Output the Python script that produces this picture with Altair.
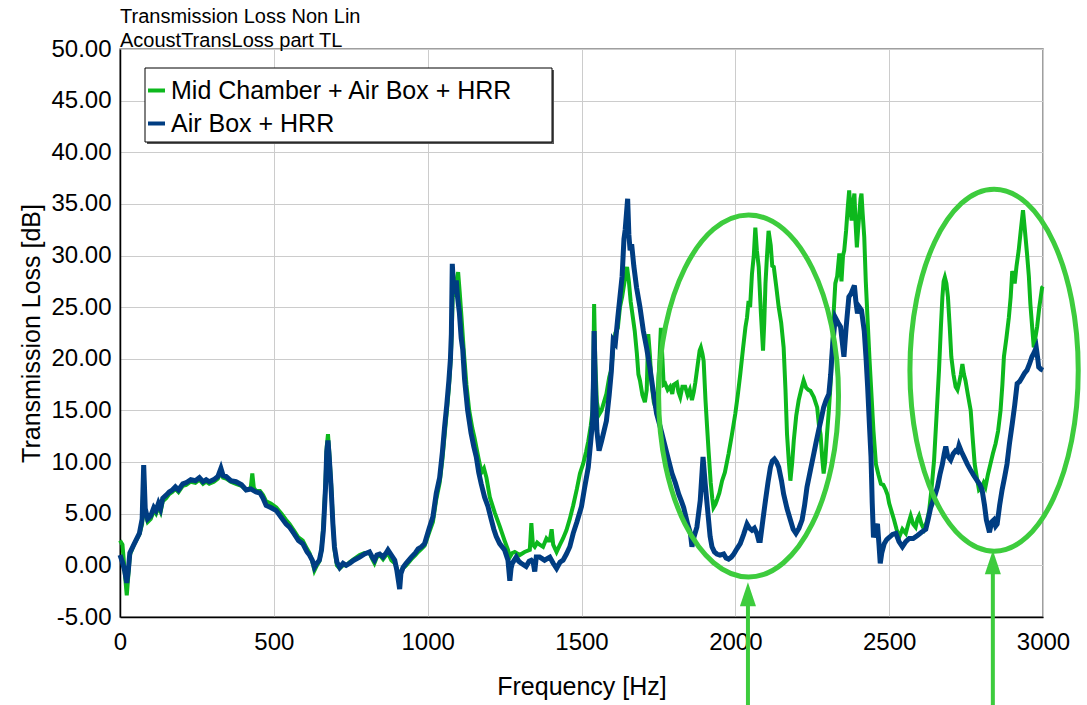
import altair as alt
import pandas as pd

GREEN_NAME = "Mid Chamber + Air Box + HRR"
BLUE_NAME = "Air Box + HRR"

# ---------------- series ----------------
blue_freq = [0, 8, 15, 22, 27, 32, 45, 63, 72, 77, 82, 90, 100, 110, 117, 125, 132, 139, 150, 160,
             170, 180, 190, 204, 215, 230, 245, 258, 270, 280, 290, 305, 318, 328, 335, 345, 360, 377, 395, 410,
             425, 442, 455, 465, 475, 490, 508, 525, 540, 551, 565, 580, 594, 608, 616, 625, 632, 640, 648, 655,
             661, 668, 672, 676, 680, 686, 692, 697, 705, 714, 725, 735, 746, 760, 779, 795, 811, 820, 827, 835,
             844, 855, 865, 871, 882, 893, 900, 905, 909, 913, 920, 930, 947, 960, 969, 980, 990, 996, 1005, 1017,
             1028, 1039, 1048, 1055, 1062, 1069, 1074, 1077, 1080, 1084, 1088, 1093, 1097, 1103, 1109, 1114, 1120, 1125, 1130, 1141,
             1150, 1158, 1166, 1174, 1185, 1196, 1207, 1215, 1223, 1234, 1250, 1261, 1267, 1271, 1275, 1288, 1296, 1304, 1320, 1330,
             1337, 1343, 1348, 1353, 1364, 1380, 1397, 1408, 1419, 1430, 1440, 1451, 1462, 1473, 1485, 1500, 1510, 1522, 1530, 1536,
             1539, 1541, 1545, 1550, 1557, 1565, 1573, 1581, 1590, 1597, 1603, 1610, 1618, 1625, 1632, 1638, 1642, 1646, 1650, 1654,
             1658, 1663, 1670, 1679, 1690, 1701, 1712, 1722, 1733, 1744, 1755, 1772, 1783, 1794, 1805, 1816, 1825, 1832, 1845, 1854,
             1859, 1866, 1875, 1886, 1895, 1902, 1908, 1913, 1918, 1924, 1932, 1940, 1950, 1962, 1970, 1978, 1987, 1995, 2005, 2016,
             2027, 2038, 2046, 2054, 2062, 2070, 2076, 2081, 2090, 2098, 2106, 2114, 2120, 2127, 2134, 2141, 2150, 2157, 2168, 2179,
             2188, 2197, 2207, 2217, 2225, 2233, 2244, 2255, 2263, 2271, 2280, 2287, 2295, 2304, 2310, 2315, 2320, 2325, 2334, 2342,
             2348, 2353, 2360, 2369, 2376, 2387, 2392, 2397, 2403, 2410, 2419, 2425, 2430, 2436, 2441, 2445, 2449, 2455, 2462, 2467,
             2471, 2476, 2484, 2492, 2500, 2511, 2522, 2532, 2543, 2554, 2565, 2578, 2592, 2605, 2619, 2627, 2635, 2646, 2657, 2665,
             2673, 2679, 2684, 2690, 2700, 2708, 2716, 2722, 2727, 2735, 2743, 2754, 2765, 2775, 2786, 2795, 2802, 2810, 2816, 2821,
             2826, 2833, 2840, 2846, 2851, 2859, 2867, 2875, 2883, 2891, 2900, 2908, 2916, 2924, 2932, 2940, 2948, 2956, 2964, 2971,
             2978, 2983, 2986, 2993, 3000]
blue_tl = [1.0, 0.3, -0.5, -1.7, -0.5, 1.2, 2.0, 3.1, 4.5, 9.7, 5.5, 4.5, 4.8, 5.6, 5.3, 6.0, 5.5, 6.5, 6.8, 7.1,
           7.3, 7.6, 7.3, 7.9, 8.0, 8.3, 8.2, 8.5, 8.1, 8.3, 8.1, 8.3, 8.6, 9.4, 8.7, 8.6, 8.2, 8.1, 7.8, 7.3,
           7.4, 7.1, 7.0, 6.5, 5.8, 5.6, 5.3, 4.6, 4.0, 3.7, 3.1, 2.4, 2.1, 1.3, 1.0, 0.5, -0.2, 0.2, 0.5, 1.5,
           3.4, 7.5, 11.0, 12.1, 10.5, 7.6, 4.0, 1.8, 0.3, -0.2, 0.2, 0.0, 0.2, 0.5, 0.8, 1.1, 1.3, 0.8, 0.5, 1.0,
           1.1, 0.8, 1.2, 1.5, 1.0, 0.5, -0.5, -1.5, -2.3, -0.8, -0.2, 0.2, 0.8, 1.2, 1.6, 1.8, 2.1, 2.7, 3.6, 4.7,
           7.0, 8.5, 11.0, 13.4, 15.5, 17.9, 20.0, 22.4, 29.2, 27.0, 26.3, 27.6, 26.0, 24.5, 22.0, 20.9, 18.0, 16.5, 15.0, 12.8,
           11.5, 10.5, 9.0, 7.9, 6.6, 5.7, 4.4, 3.5, 2.8, 2.1, 1.5, 0.5, -1.5, -0.3, 0.2, 0.8, 0.4, 0.2, -0.1, 0.4,
           0.5, 0.3, -0.6, 0.8, 0.8, 0.5, 0.8, 0.2, -0.3, 0.3, 0.5, 1.1, 1.8, 3.1, 4.2, 5.7, 7.5, 9.5, 12.0, 14.0,
           18.0, 22.7, 17.0, 13.0, 11.1, 12.0, 13.0, 14.0, 16.5, 18.8, 21.8, 21.5, 24.0, 26.0, 28.0, 31.6, 32.5, 34.0, 35.5, 32.0,
           30.5, 31.1, 29.0, 26.9, 25.0, 22.7, 21.0, 19.2, 16.9, 14.7, 13.5, 11.5, 10.2, 8.9, 8.0, 6.9, 6.2, 5.6, 4.0, 3.1,
           1.8, 2.8, 3.7, 6.3, 10.5, 7.9, 6.0, 4.4, 2.8, 1.8, 1.3, 1.1, 1.0, 1.1, 0.7, 0.6, 0.8, 1.1, 1.6, 2.1,
           3.0, 4.0, 3.6, 3.4, 3.6, 3.1, 2.4, 2.4, 4.5, 6.3, 8.0, 9.5, 10.1, 10.3, 10.0, 9.5, 8.2, 6.9, 5.5, 4.4,
           3.5, 3.1, 3.6, 4.4, 5.8, 7.6, 9.2, 10.8, 12.0, 13.1, 14.3, 15.3, 16.0, 16.6, 18.5, 20.8, 22.5, 24.0, 23.5, 23.1,
           21.5, 20.2, 23.0, 26.0, 26.3, 27.1, 25.5, 24.4, 25.0, 24.7, 22.7, 20.0, 17.3, 13.5, 10.5, 6.0, 2.7, 3.5, 4.0, 2.0,
           0.2, 1.2, 2.1, 2.5, 2.7, 3.0, 3.1, 2.3, 1.8, 2.3, 2.6, 2.6, 2.9, 3.2, 3.5, 4.5, 5.6, 6.5, 7.6, 8.8,
           9.8, 10.8, 11.5, 10.6, 10.2, 10.8, 11.1, 11.0, 11.6, 11.0, 10.5, 9.8, 9.2, 8.7, 8.2, 7.8, 7.3, 5.8, 4.4, 3.8,
           3.2, 4.2, 4.4, 3.8, 4.0, 5.8, 7.3, 8.5, 9.8, 11.8, 13.7, 15.5, 17.6, 17.8, 18.2, 18.6, 18.9, 19.5, 20.2, 20.6,
           21.1, 20.0, 19.2, 19.0, 18.9]

green_freq = [0, 8, 15, 22, 27, 32, 45, 63, 72, 77, 82, 90, 100, 110, 117, 125, 132, 139, 150, 160,
              170, 180, 190, 204, 215, 230, 245, 258, 270, 280, 290, 305, 318, 328, 335, 345, 360, 377, 395, 410,
              425, 430, 435, 442, 455, 465, 475, 490, 508, 525, 540, 551, 565, 580, 594, 608, 616, 625, 632, 640,
              648, 655, 661, 668, 672, 676, 680, 686, 692, 697, 705, 714, 725, 735, 746, 760, 779, 795, 811, 820,
              827, 835, 844, 855, 865, 871, 882, 893, 900, 905, 909, 913, 920, 930, 947, 960, 969, 980, 990, 996,
              1005, 1017, 1028, 1039, 1048, 1055, 1062, 1069, 1074, 1077, 1082, 1088, 1093, 1099, 1104, 1110, 1118, 1126, 1135, 1145,
              1152, 1165, 1175, 1183, 1191, 1202, 1218, 1234, 1250, 1261, 1267, 1275, 1283, 1299, 1315, 1332, 1337, 1342, 1348, 1356,
              1364, 1375, 1386, 1392, 1397, 1403, 1408, 1419, 1430, 1440, 1451, 1462, 1473, 1485, 1495, 1505, 1515, 1522, 1530, 1536,
              1539, 1541, 1545, 1550, 1557, 1565, 1573, 1581, 1590, 1597, 1603, 1610, 1618, 1625, 1632, 1640, 1648, 1654, 1660, 1667,
              1673, 1680, 1685, 1690, 1698, 1706, 1712, 1717, 1722, 1728, 1735, 1740, 1747, 1752, 1758, 1763, 1767, 1772, 1780, 1788,
              1795, 1800, 1810, 1815, 1821, 1828, 1837, 1845, 1852, 1859, 1865, 1870, 1878, 1884, 1888, 1893, 1897, 1903, 1908, 1913,
              1920, 1925, 1929, 1935, 1940, 1948, 1957, 1966, 1978, 1988, 2000, 2008, 2016, 2025, 2033, 2038, 2043, 2048, 2054, 2060,
              2065, 2070, 2076, 2083, 2090, 2094, 2098, 2103, 2108, 2115, 2120, 2125, 2133, 2141, 2149, 2157, 2163, 2168, 2174, 2179,
              2185, 2190, 2198, 2206, 2214, 2222, 2230, 2237, 2244, 2255, 2266, 2272, 2277, 2282, 2287, 2292, 2298, 2304, 2309, 2315,
              2320, 2325, 2331, 2338, 2345, 2350, 2354, 2360, 2365, 2370, 2374, 2378, 2382, 2387, 2391, 2395, 2399, 2403, 2407, 2410,
              2414, 2419, 2424, 2430, 2436, 2441, 2449, 2457, 2465, 2473, 2481, 2489, 2495, 2500, 2508, 2516, 2524, 2532, 2543, 2554,
              2562, 2570, 2578, 2586, 2592, 2597, 2605, 2613, 2622, 2630, 2638, 2646, 2654, 2662, 2668, 2673, 2677, 2681, 2686, 2691,
              2697, 2702, 2709, 2716, 2722, 2727, 2733, 2738, 2743, 2748, 2756, 2765, 2771, 2778, 2785, 2792, 2800, 2807, 2813, 2821,
              2829, 2837, 2846, 2854, 2862, 2868, 2873, 2881, 2889, 2895, 2900, 2904, 2908, 2914, 2921, 2928, 2935, 2941, 2948, 2954,
              2959, 2965, 2970, 2975, 2981, 2988, 2997, 3000]
green_tl = [2.4, 2.0, -0.5, -2.9, -1.0, 1.0, 2.0, 3.0, 4.0, 9.2, 5.0, 4.2, 4.5, 5.3, 5.0, 5.7, 5.2, 6.2, 6.5, 6.9,
            7.1, 7.4, 7.1, 7.7, 7.8, 8.1, 8.0, 8.3, 7.9, 8.1, 7.9, 8.1, 8.4, 9.0, 8.5, 8.4, 8.1, 7.9, 7.7, 7.3,
            7.5, 8.9, 7.5, 7.2, 7.2, 6.8, 6.2, 6.0, 5.6, 5.0, 4.4, 4.0, 3.4, 2.7, 2.4, 1.6, 1.2, 0.4, -0.5, 0.0,
            0.4, 1.5, 3.8, 8.0, 11.5, 12.7, 11.0, 8.0, 4.2, 1.6, 0.0, -0.3, 0.0, 0.0, 0.3, 0.6, 1.0, 1.2, 1.2, 0.6,
            0.2, 0.8, 1.0, 0.6, 1.0, 1.2, 0.5, 0.2, -0.3, -1.2, -1.8, -0.6, -0.3, 0.0, 0.6, 1.0, 1.3, 1.6, 1.9, 2.4,
            3.2, 4.2, 6.4, 8.0, 10.3, 12.6, 14.8, 17.2, 19.5, 21.5, 26.5, 26.0, 27.5, 28.4, 26.5, 24.0, 20.5, 17.5, 15.0, 13.3,
            12.4, 10.4, 9.0, 9.4, 8.5, 6.6, 5.1, 3.8, 2.4, 1.5, 0.8, 1.2, 1.3, 1.0, 1.3, 1.5, 4.1, 2.0, 1.8, 2.2,
            2.0, 1.8, 2.6, 2.4, 2.4, 3.5, 2.0, 1.3, 2.0, 2.6, 3.4, 4.5, 5.8, 7.4, 8.9, 9.8, 11.0, 12.0, 13.5, 15.0,
            20.0, 25.3, 19.5, 15.8, 14.6, 15.0, 15.8, 16.6, 18.2, 19.0, 21.0, 22.5, 23.0, 25.0, 26.0, 27.5, 28.9, 27.5, 25.5, 24.0,
            22.7, 20.5, 18.5, 17.9, 16.5, 15.8, 17.0, 22.4, 20.5, 17.5, 15.8, 15.3, 16.5, 19.0, 23.0, 20.0, 17.5, 17.6, 17.0, 17.3,
            16.6, 17.5, 17.7, 16.8, 16.3, 17.3, 17.3, 16.5, 17.0, 16.0, 16.8, 17.7, 19.5, 20.8, 21.1, 20.5, 19.8, 16.0, 13.5, 11.1,
            8.0, 6.5, 5.6, 5.9, 6.3, 7.0, 8.2, 9.0, 10.8, 12.5, 14.7, 16.5, 18.5, 21.0, 23.1, 24.0, 25.6, 25.0, 28.2, 30.0,
            32.7, 30.5, 28.9, 24.5, 20.8, 23.5, 27.3, 30.0, 32.4, 31.0, 29.0, 28.9, 27.0, 25.0, 23.5, 21.1, 17.0, 12.7, 10.0, 8.2,
            10.0, 12.1, 14.5, 16.0, 17.0, 17.9, 17.2, 17.0, 16.9, 16.3, 15.3, 13.5, 12.7, 10.5, 8.9, 10.0, 12.7, 15.0, 17.3, 21.0,
            24.7, 27.3, 28.0, 30.2, 27.5, 30.0, 30.5, 32.4, 34.5, 36.3, 34.5, 33.4, 35.0, 36.0, 33.0, 30.8, 32.5, 34.0, 35.5, 36.0,
            34.0, 31.8, 27.5, 23.7, 20.0, 17.3, 13.0, 9.8, 8.8, 7.9, 7.8, 7.3, 6.8, 6.0, 5.2, 4.4, 3.5, 2.7, 3.5, 3.1,
            4.0, 4.8, 4.0, 3.7, 4.5, 4.8, 4.0, 3.5, 4.2, 5.3, 7.5, 10.2, 14.5, 18.9, 23.0, 26.0, 27.5, 27.9, 27.3, 26.0,
            23.0, 20.2, 18.5, 17.3, 17.0, 17.6, 18.5, 19.5, 18.5, 17.9, 16.5, 15.0, 12.5, 9.8, 8.5, 7.3, 7.5, 8.0, 7.6, 8.8,
            9.8, 10.8, 11.8, 13.0, 15.0, 17.5, 20.2, 22.0, 24.0, 26.0, 28.5, 28.0, 27.3, 29.0, 30.5, 32.5, 34.4, 32.5, 30.2, 28.0,
            25.3, 23.0, 21.1, 22.0, 23.1, 25.0, 26.9, 27.0]

x_ticks = [0, 500, 1000, 1500, 2000, 2500, 3000]
y_ticks = [-5, 0, 5, 10, 15, 20, 25, 30, 35, 40, 45, 50]
title_lines = ["Transmission Loss Non Lin", "AcoustTransLoss part TL"]

# highlight annotations (centres in data units)
ellipse_freq = [2043, 2841]
ellipse_tl = [16.4, 18.9]
arrow_freq = [2041, 2837]
arrow_head_tl = [-2.8, 0.3]
arrow_tail_tl = [-13.8, -13.8]

# ---------------- styles ----------------
FONT = "Liberation Sans"
C_GREEN = "#0DB81D"
C_BLUE = "#003D82"
C_HL = "#3DCC3D"

series = pd.DataFrame(
    {"freq": green_freq + blue_freq,
     "tl": green_tl + blue_tl,
     "series": [GREEN_NAME] * len(green_freq) + [BLUE_NAME] * len(blue_freq)}
)

xscale = alt.Scale(domain=[0, 3000], nice=False, zero=False)
yscale = alt.Scale(domain=[-5, 50], nice=False, zero=False)

color = alt.Color(
    "series:N",
    scale=alt.Scale(domain=[GREEN_NAME, BLUE_NAME], range=[C_GREEN, C_BLUE]),
    legend=alt.Legend(
        orient="none", legendX=24, legendY=29, title=None, direction="vertical",
        symbolType="stroke", symbolStrokeWidth=4, symbolSize=289,
        labelFont=FONT, labelFontSize=25, labelColor="black", labelLimit=800,
        labelOffset=2, rowPadding=7, padding=0,
    ),
)

x_enc = alt.X(
    "freq:Q", scale=xscale,
    axis=alt.Axis(values=x_ticks, format="d", title="Frequency [Hz]", ticks=False,
                  labelFont=FONT, labelFontSize=24, labelColor="black", labelPadding=13,
                  labelFlush=False, labelOverlap=False,
                  titleFont=FONT, titleFontSize=25, titleFontWeight="normal", titleColor="black",
                  titlePadding=20, gridColor="#CCCCCC", gridWidth=1,
                  domainColor="black", domainWidth=1.5),
)
y_enc = alt.Y(
    "tl:Q", scale=yscale,
    axis=alt.Axis(values=y_ticks, title="Transmission Loss [dB]", ticks=False,
                  labelExpr="(datum.value < 0 ? '-' : '') + format(abs(datum.value), '.2f')",
                  labelFont=FONT, labelFontSize=24, labelColor="black", labelPadding=9,
                  labelFlush=False, labelOverlap=False,
                  titleFont=FONT, titleFontSize=25, titleFontWeight="normal", titleColor="black",
                  titlePadding=6, gridColor="#CCCCCC", gridWidth=1,
                  domainColor="black", domainWidth=1.5),
)

green_line = alt.Chart(series).transform_filter(
    alt.datum.series == GREEN_NAME
).mark_line(strokeWidth=4).encode(x=x_enc, y=y_enc, color=color)

blue_line = alt.Chart(series).transform_filter(
    alt.datum.series == BLUE_NAME
).mark_line(strokeWidth=5).encode(x=x_enc, y=y_enc, color=color)

ell = pd.DataFrame({"freq": ellipse_freq, "tl": ellipse_tl})
ell1 = alt.Chart(ell.iloc[[0]]).mark_point(
    shape="M -0.497 0 A 0.497 1 0 1 1 0.497 0 A 0.497 1 0 1 1 -0.497 0 Z",
    size=131044, filled=False, strokeWidth=5, color=C_HL, opacity=1,
).encode(x=alt.X("freq:Q", scale=xscale), y=alt.Y("tl:Q", scale=yscale))
ell2 = alt.Chart(ell.iloc[[1]]).mark_point(
    shape="M -0.465 0 A 0.465 1 0 1 1 0.465 0 A 0.465 1 0 1 1 -0.465 0 Z",
    size=131044, filled=False, strokeWidth=5, color=C_HL, opacity=1,
).encode(x=alt.X("freq:Q", scale=xscale), y=alt.Y("tl:Q", scale=yscale))

arr = pd.DataFrame({"freq": arrow_freq, "head": arrow_head_tl, "tail": arrow_tail_tl})
arrow_shaft = alt.Chart(arr).mark_rule(color=C_HL, strokeWidth=4).encode(
    x=alt.X("freq:Q", scale=xscale),
    y=alt.Y("head:Q", scale=yscale),
    y2="tail:Q",
)
arrow_head = alt.Chart(arr).mark_point(
    shape="M 0 -1 L 0.67 1 L -0.67 1 Z", size=576, filled=True, color=C_HL, opacity=1,
).encode(x=alt.X("freq:Q", scale=xscale), y=alt.Y("head:Q", scale=yscale))

box_df = pd.DataFrame({"k": [0]})
legend_shadow = alt.Chart(box_df).mark_rect(fill="#555555").encode(
    x=alt.value(27), x2=alt.value(434), y=alt.value(21), y2=alt.value(95))
legend_box = alt.Chart(box_df).mark_rect(fill="white", stroke="black", strokeWidth=1).encode(
    x=alt.value(25), x2=alt.value(432), y=alt.value(19), y2=alt.value(93))

t_df = pd.DataFrame({"t": title_lines})
title1 = alt.Chart(t_df.iloc[[0]]).mark_text(
    font=FONT, fontSize=20, align="left", baseline="alphabetic", color="black"
).encode(text="t:N", x=alt.value(0), y=alt.value(-26.5))
title2 = alt.Chart(t_df.iloc[[1]]).mark_text(
    font=FONT, fontSize=20, align="left", baseline="alphabetic", color="black"
).encode(text="t:N", x=alt.value(0), y=alt.value(-2.5))

chart = alt.layer(
    green_line, blue_line, ell1, ell2, arrow_shaft, arrow_head,
    legend_shadow, legend_box, title1, title2,
).properties(
    width=923, height=568,
    autosize=alt.AutoSizeParams(type="none"),
    padding={"left": 120, "top": 49, "right": 44, "bottom": 88},
    background="white",
).configure_view(stroke="#808080", strokeWidth=1.5)

chart.save("out.html", embed_options={"renderer": "svg", "actions": False})
